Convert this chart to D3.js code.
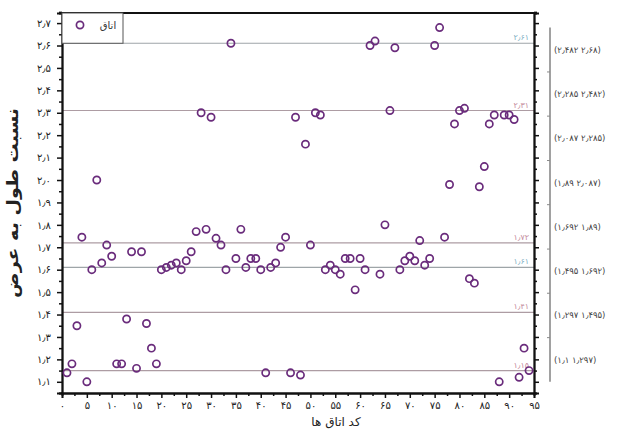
<!DOCTYPE html>
<html>
<head>
<meta charset="utf-8">
<script src="https://cdn.jsdelivr.net/npm/d3@7"></script>
<style>
  body { margin: 0; background: #fff; }
  svg { display: block; font-family: "DejaVu Sans", sans-serif; }
</style>
</head>
<body>
<svg id="chart" width="617" height="430"></svg>
<script>
// room codes 1..94 and their length/width ratio
const roomCodes = d3.range(1, 95);
const ratios = [
  1.14, 1.18, 1.35, 1.745, 1.10, 1.60, 2.00, 1.63, 1.71, 1.66,
  1.18, 1.18, 1.38, 1.68, 1.16, 1.68, 1.36, 1.25, 1.18, 1.60,
  1.61, 1.62, 1.63, 1.60, 1.64, 1.68, 1.77, 2.30, 1.78, 2.28,
  1.74, 1.71, 1.60, 2.61, 1.65, 1.78, 1.61, 1.65, 1.65, 1.60,
  1.14, 1.61, 1.63, 1.70, 1.745, 1.14, 2.28, 1.13, 2.16, 1.71,
  2.30, 2.29, 1.60, 1.62, 1.60, 1.58, 1.65, 1.65, 1.51, 1.65,
  1.60, 2.60, 2.62, 1.58, 1.80, 2.31, 2.59, 1.60, 1.64, 1.66,
  1.64, 1.73, 1.62, 1.65, 2.60, 2.68, 1.745, 1.98, 2.25, 2.31,
  2.32, 1.56, 1.54, 1.97, 2.06, 2.25, 2.29, 1.10, 2.29, 2.29,
  2.27, 1.12, 1.25, 1.15
];

// reference lines drawn across the plot
const refValues = [2.61, 2.31, 1.72, 1.61, 1.41, 1.15];
const refKinds = ["a", "b", "b", "a", "b", "b"];

// class edges shown on the right bracket
const binEdges = [1.1, 1.297, 1.495, 1.692, 1.89, 2.087, 2.285, 2.482, 2.68];

const yTicks = d3.range(11, 28).map((d) => d / 10);
const xTicks = d3.range(0, 96, 5);

const xLabel = "کد اتاق ها";
const yLabel = "نسبت طول به عرض";
const legendLabel = "اتاق";

const fa = (s) => String(s).replace(/\d/g, (d) => "۰۱۲۳۴۵۶۷۸۹"[d]).replace(/\./g, "٫");

const margin = { left: 62, right: 534, top: 13, bottom: 393 };
const markColor = "#6a2c7c";
const refColor = { a: "#7fb0c4", b: "#c48a9c" };
const refLine = { a: "#9ea5a8", b: "#ad9ca3" };

const svg = d3.select("#chart");
const x = d3.scaleLinear().domain([0, 95]).range([margin.left, margin.right]);
const y = d3.scaleLinear().domain([1.05, 2.745]).range([margin.bottom, margin.top]);

// reference lines
const refs = svg.append("g");
refValues.forEach((v, i) => {
  refs.append("line")
    .attr("x1", x(0)).attr("x2", x(95))
    .attr("y1", y(v)).attr("y2", y(v))
    .attr("stroke", refLine[refKinds[i]])
    .attr("stroke-width", 1.2);
  refs.append("text")
    .attr("x", x(95) - 5).attr("y", y(v) - 3)
    .attr("text-anchor", "end")
    .attr("font-size", 8)
    .attr("fill", refColor[refKinds[i]])
    .text(fa(v.toFixed(2)));
});

// left axis
const yAxis = svg.append("g")
  .attr("transform", `translate(${margin.left},0)`)
  .call(d3.axisLeft(y).tickValues(yTicks).tickSize(5).tickPadding(6).tickFormat((d) => fa(d.toFixed(1))));
yAxis.append("g").call(d3.axisLeft(y).tickValues(yTicks.map((d) => d + 0.05).concat([1.05])).tickSize(3).tickFormat(""));

// right axis (no labels)
const yRight = svg.append("g")
  .attr("transform", `translate(${margin.right},0)`)
  .call(d3.axisRight(y).tickValues(yTicks).tickSize(5).tickFormat(""));
yRight.append("g").call(d3.axisRight(y).tickValues(yTicks.map((d) => d + 0.05).concat([1.05])).tickSize(3).tickFormat(""));

// bottom axis
const xAxis = svg.append("g")
  .attr("transform", `translate(0,${margin.bottom})`)
  .call(d3.axisBottom(x).tickValues(xTicks).tickSize(5).tickPadding(4).tickFormat((d) => fa(d)));
xAxis.append("g").call(d3.axisBottom(x).tickValues(xTicks.slice(0, -1).map((d) => d + 2.5)).tickSize(3).tickFormat(""));

svg.selectAll(".domain").attr("stroke", "#111").attr("stroke-width", 1.8);
svg.selectAll(".tick line").attr("stroke", "#111").attr("stroke-width", 1.5);
svg.selectAll(".tick text").attr("font-size", 10).attr("fill", "#222").attr("font-family", "DejaVu Sans");

// top frame
svg.append("line")
  .attr("x1", margin.left).attr("x2", margin.right)
  .attr("y1", margin.top).attr("y2", margin.top)
  .attr("stroke", "#111").attr("stroke-width", 2.2);

// points
svg.append("g")
  .selectAll("circle")
  .data(roomCodes)
  .join("circle")
  .attr("cx", (d) => x(d))
  .attr("cy", (d, i) => y(ratios[i]))
  .attr("r", 3.6)
  .attr("fill", "none")
  .attr("stroke", markColor)
  .attr("stroke-width", 1.7);

// legend
const legend = svg.append("g");
legend.append("rect")
  .attr("x", margin.left).attr("y", margin.top)
  .attr("width", 61).attr("height", y(2.61) - margin.top)
  .attr("fill", "#fff").attr("stroke", "#555").attr("stroke-width", 1);
legend.append("circle")
  .attr("cx", 80).attr("cy", 25).attr("r", 3.6)
  .attr("fill", "none").attr("stroke", markColor).attr("stroke-width", 1.7);
legend.append("text")
  .attr("x", 108).attr("y", 29)
  .attr("text-anchor", "middle").attr("font-size", 10).attr("fill", "#333")
  .text(legendLabel);

// class bracket on the right
const bracketX = 550;
const bracket = svg.append("g");
bracket.append("line")
  .attr("x1", bracketX).attr("x2", bracketX)
  .attr("y1", y(binEdges[binEdges.length - 1])).attr("y2", y(binEdges[0]))
  .attr("stroke", "#8a8a8a").attr("stroke-width", 1.6);
binEdges.slice(1, -1).forEach((e) => {
  bracket.append("line")
    .attr("x1", bracketX - 3).attr("x2", bracketX)
    .attr("y1", y(e)).attr("y2", y(e))
    .attr("stroke", "#8a8a8a").attr("stroke-width", 1);
});
d3.pairs(binEdges).forEach(([lo, hi]) => {
  bracket.append("text")
    .attr("x", bracketX + 4).attr("y", y((lo + hi) / 2) + 3)
    .attr("font-size", 8.5).attr("fill", "#444")
    .text(`(${fa(lo)} ${fa(hi)})`);
});

// axis titles
svg.append("text")
  .attr("x", 336).attr("y", 426)
  .attr("text-anchor", "middle").attr("font-size", 12).attr("fill", "#222")
  .text(xLabel);
svg.append("text")
  .attr("transform", `translate(18,${(margin.top + margin.bottom) / 2}) rotate(-90)`)
  .attr("text-anchor", "middle").attr("font-size", 16).attr("font-weight", "bold").attr("fill", "#222")
  .attr("textLength", 190).attr("lengthAdjust", "spacingAndGlyphs")
  .text(yLabel);
</script>
</body>
</html>
